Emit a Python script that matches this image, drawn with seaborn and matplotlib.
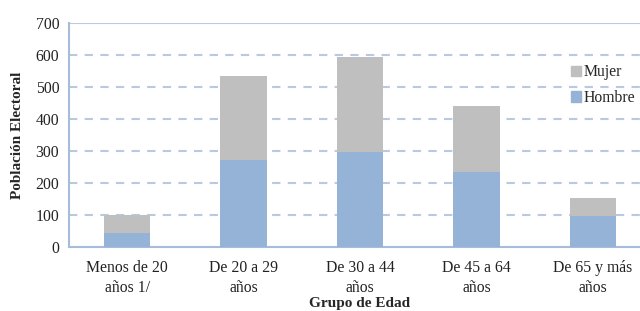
import pandas as pd
import matplotlib.pyplot as plt
import seaborn as sns
from matplotlib.patches import Patch

grupos = ["Menos de 20\naños 1/", "De 20 a 29\naños", "De 30 a 44\naños",
          "De 45 a 64\naños", "De 65 y más\naños"]
hombre = [44, 271, 296, 233, 96]
mujer = [55, 263, 297, 207, 56]
yticks = [0, 100, 200, 300, 400, 500, 600, 700]

azul = "#95B3D7"
gris = "#BFBFBF"
linea = "#B7CAE2"

df = pd.DataFrame({"grupo": grupos, "Hombre": hombre, "Mujer": mujer})
df["total"] = df["Hombre"] + df["Mujer"]

sns.set_style("white")
plt.rcParams["font.family"] = ["Liberation Serif", "DejaVu Serif"]

fig = plt.figure(figsize=(6.4, 3.11), dpi=100)
ax = fig.add_axes([69 / 640, 1 - 247 / 311, 582 / 640, 224 / 311])

for y in yticks[1:-1]:
    ax.axhline(y, color=linea, lw=1.5, dashes=(4, 3.5), zorder=0)
ax.axhline(700, color=linea, lw=1.5, zorder=0)

sns.barplot(data=df, x="grupo", y="total", color=gris, width=0.4,
            saturation=1, linewidth=0, ax=ax, zorder=2)
sns.barplot(data=df, x="grupo", y="Hombre", color=azul, width=0.4,
            saturation=1, linewidth=0, ax=ax, zorder=3)

ax.set_ylim(0, 700)
ax.set_xlim(-0.5, 4.5)
ax.set_yticks(yticks)
ax.tick_params(axis="both", length=0, labelsize=11.3, colors="#222222")
ax.tick_params(axis="y", pad=7)
ax.tick_params(axis="x", pad=9)
for t in ax.get_xticklabels():
    t.set_linespacing(1.4)
for s in ["top", "right"]:
    ax.spines[s].set_visible(False)
for s in ["left", "bottom"]:
    ax.spines[s].set_color("#A7BCD8")
    ax.spines[s].set_linewidth(1.5)

ax.set_ylabel("Población Electoral", fontsize=11, fontweight="bold", labelpad=8)
ax.set_xlabel("Grupo de Edad", fontsize=11, fontweight="bold", va="center")
ax.xaxis.set_label_coords(0.5, -0.25)

handles = [Patch(color=gris, label="Mujer"), Patch(color=azul, label="Hombre")]
ax.legend(handles=handles, frameon=False, fontsize=11.3, loc="upper left",
          bbox_to_anchor=(0.862, 0.815), borderpad=0, borderaxespad=0,
          handlelength=0.65, handleheight=0.65, handletextpad=0.15,
          labelspacing=0.6)

fig.savefig("out.png", dpi=100)
